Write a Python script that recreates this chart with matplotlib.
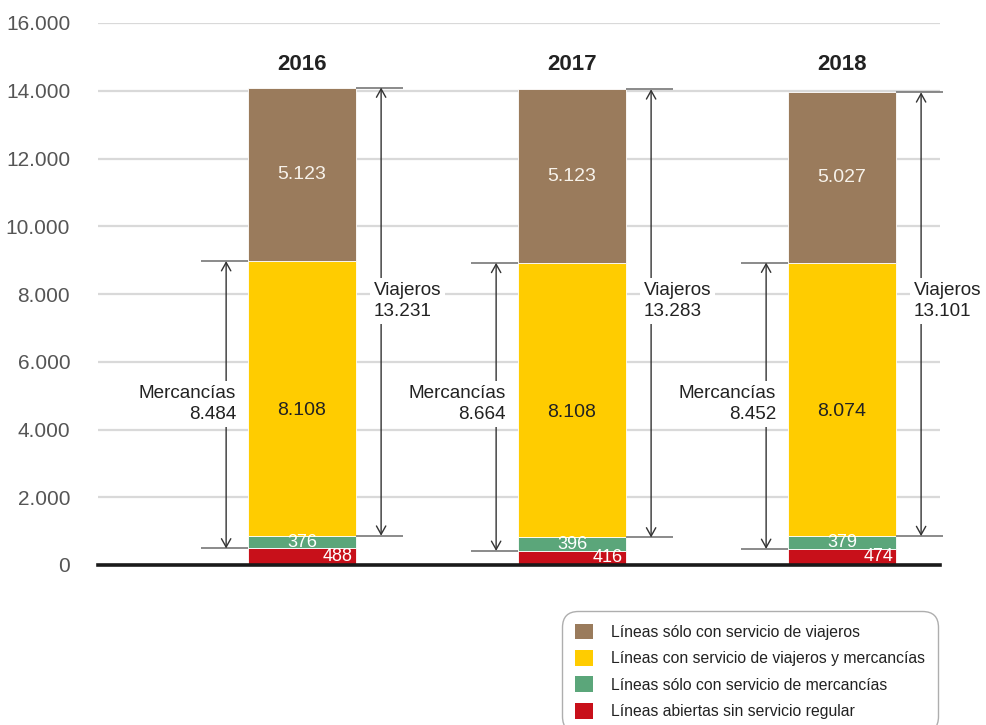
import matplotlib
matplotlib.use("Agg")
import matplotlib.pyplot as plt
from matplotlib.patches import FancyArrowPatch, Patch

plt.rcParams['font.family'] = ['Liberation Sans', 'DejaVu Sans']

# ---- data ----
years = ['2016', '2017', '2018']
sin_servicio = [488, 416, 474]              # Líneas abiertas sin servicio regular
solo_mercancias = [376, 396, 379]           # Líneas sólo con servicio de mercancías
viajeros_y_mercancias = [8108, 8108, 8074]  # Líneas con servicio de viajeros y mercancías
solo_viajeros = [5123, 5123, 5027]          # Líneas sólo con servicio de viajeros
total_mercancias = [8484, 8664, 8452]
total_viajeros = [13231, 13283, 13101]
yticks = [0, 2000, 4000, 6000, 8000, 10000, 12000, 14000, 16000]

legend_labels = ['Líneas sólo con servicio de viajeros',
                 'Líneas con servicio de viajeros y mercancías',
                 'Líneas sólo con servicio de mercancías',
                 'Líneas abiertas sin servicio regular']

C_BROWN = '#9A7B5C'
C_YELLOW = '#FFCC00'
C_GREEN = '#5BA67A'
C_RED = '#C8101A'


def fmt(v):
    return f"{v:,}".replace(',', '.')


fig = plt.figure(figsize=(9.86, 7.25), dpi=100)
ax = fig.add_axes([98 / 986, (725 - 565) / 725, 842 / 986, 542 / 725])

x = list(range(len(years)))
W = 0.4
b1 = sin_servicio
b2 = [a + b for a, b in zip(b1, solo_mercancias)]
b3 = [a + b for a, b in zip(b2, viajeros_y_mercancias)]
tops = [a + b for a, b in zip(b3, solo_viajeros)]

kw = dict(width=W, edgecolor='white', linewidth=0.6, zorder=3)
ax.bar(x, sin_servicio, color=C_RED, **kw)
ax.bar(x, solo_mercancias, bottom=b1, color=C_GREEN, **kw)
ax.bar(x, viajeros_y_mercancias, bottom=b2, color=C_YELLOW, **kw)
ax.bar(x, solo_viajeros, bottom=b3, color=C_BROWN, **kw)

ax.set_xlim(-0.7556, 2.363)
ax.set_ylim(0, 16000)
ax.set_yticks(yticks)
ax.set_yticklabels([fmt(v) for v in yticks])
ax.tick_params(axis='y', length=0, pad=20, labelsize=15, labelcolor='#555555')
ax.tick_params(axis='x', length=0, labelbottom=False)
ax.yaxis.grid(True, color='#d9d9d9', lw=1.6, zorder=0)
ax.set_axisbelow(True)
for s in ax.spines.values():
    s.set_visible(False)
ax.axhline(0, color='#1a1a1a', lw=2.6, zorder=6, clip_on=False)

EXT = 0.174
ARX_M = 0.081
ARX_V = 0.093
Y_MERC = 4750
Y_VIAJ = 7800
Y_TITLE = 14780

for i in x:
    left = i - W / 2
    right = i + W / 2
    # year title
    ax.text(i, Y_TITLE, years[i], ha='center', va='center', fontsize=16,
            fontweight='bold', color='#222222', zorder=7)
    # segment labels
    ax.text(i, b3[i] + solo_viajeros[i] / 2, fmt(solo_viajeros[i]), ha='center',
            va='center', fontsize=14, color='#f7f2ea', zorder=7)
    ax.text(i, b2[i] + 0.455 * viajeros_y_mercancias[i], fmt(viajeros_y_mercancias[i]),
            ha='center', va='center', fontsize=14, color='#222222', zorder=7)
    ax.text(i, b1[i] + solo_mercancias[i] / 2, fmt(solo_mercancias[i]), ha='center',
            va='center', fontsize=13, color='white', zorder=7)
    ax.text(right - 0.011, sin_servicio[i] / 2, fmt(sin_servicio[i]), ha='right',
            va='center', fontsize=13, color='white', zorder=7)

    # extension lines
    for yy in (b1[i], b3[i]):
        ax.plot([left - EXT, left], [yy, yy], color='#777777', lw=1.2,
                zorder=4, clip_on=False, solid_capstyle='butt')
    for yy in (b2[i], tops[i]):
        ax.plot([right, right + EXT], [yy, yy], color='#777777', lw=1.2,
                zorder=4, clip_on=False, solid_capstyle='butt')

    # arrows
    for xa, y0, y1 in ((left - ARX_M, b1[i], b3[i]), (right + ARX_V, b2[i], tops[i])):
        ar = FancyArrowPatch((xa, y0), (xa, y1),
                             arrowstyle='<->,head_length=0.5,head_width=0.28',
                             mutation_scale=12, color='#333333', lw=1.0,
                             shrinkA=0, shrinkB=0, zorder=4)
        ax.add_patch(ar)

    # bracket labels
    ax.text(left - 0.044, Y_MERC, 'Mercancías\n' + fmt(total_mercancias[i]),
            ha='right', va='center', fontsize=13.6, color='#222222',
            linespacing=1.3, zorder=7,
            bbox=dict(boxstyle='square,pad=0.2', fc='white', ec='none'))
    ax.text(right + 0.067, Y_VIAJ, 'Viajeros\n' + fmt(total_viajeros[i]),
            ha='left', va='center', fontsize=13.6, color='#222222',
            linespacing=1.3, zorder=7,
            bbox=dict(boxstyle='square,pad=0.2', fc='white', ec='none'))

handles = [Patch(facecolor=c, edgecolor='none') for c in (C_BROWN, C_YELLOW, C_GREEN, C_RED)]
leg = fig.legend(handles, legend_labels, loc='upper left',
                 bbox_to_anchor=(562 / 986, 1 - 611 / 725), borderaxespad=0,
                 fontsize=11.3, handlelength=1.15, handleheight=1.15,
                 handletextpad=1.2, labelspacing=0.66, borderpad=0.8,
                 frameon=True, fancybox=True)
fr = leg.get_frame()
fr.set_edgecolor('#9a9a9a')
fr.set_linewidth(1.0)
fr.set_boxstyle('round', pad=0, rounding_size=1.0)
for t in leg.get_texts():
    t.set_color('#222222')

fig.savefig('out.png', dpi=100)
